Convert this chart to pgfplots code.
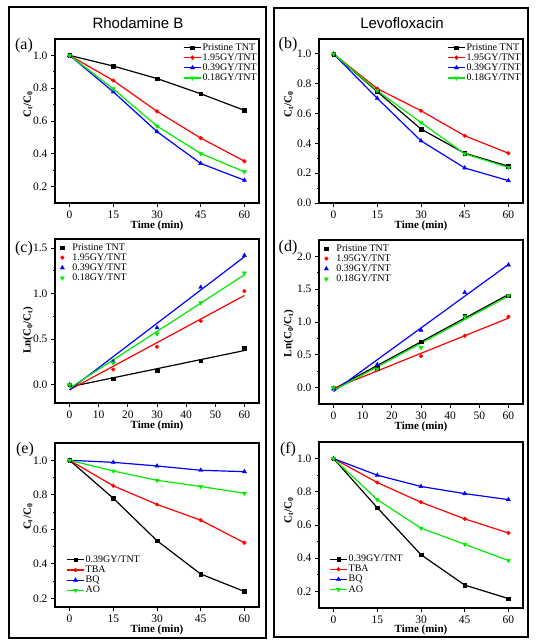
\documentclass[border=0pt]{standalone}
\usepackage{fontspec}
\setmainfont{Liberation Serif}
\newfontfamily\arialf{Liberation Sans}
\usepackage{pgfplots}
\pgfplotsset{compat=1.18}
\definecolor{cgreen}{RGB}{0,235,0}
\pgfplotsset{
 panel/.style={
  scale only axis, width=204pt, height=164pt,
  xmin=-5, xmax=65,
  tick pos=left, tick align=outside,
  major tick length=4pt, minor tick length=2pt,
  minor y tick num=1,
  axis line style={line width=1.1pt},
  every tick/.style={line width=0.9pt, black},
  tick label style={font=\fontsize{11.5}{13}\selectfont},
  /pgf/number format/assume math mode=true,
  xticklabel={\pgfmathprintnumber[assume math mode=true]{\tick}},
  yticklabel={\pgfmathprintnumber[assume math mode=true,fixed,fixed zerofill,precision=1]{\tick}},
  xlabel={\textbf{Time (min)}},
  label style={font=\fontsize{11}{13}\selectfont},
  xlabel style={at={(axis description cs:0.5,-0.138)}, anchor=center},
  legend style={draw=none, fill=none, font=\fontsize{10}{11}\selectfont, inner sep=0pt, row sep=0pt, nodes={inner sep=1pt}},
  legend cell align=left,
  every axis plot/.append style={line width=1.2pt},
 },
 mleg/.style={legend style={/tikz/every odd column/.append style={column sep=7pt}}},
 s1/.style={black, mark=square*, mark size=1.8pt, mark options={solid, line width=0.4pt}},
 s2/.style={red, mark=*, mark size=1.9pt, mark options={solid, line width=0.4pt}},
 s3/.style={blue, mark=triangle*, mark size=2.4pt, mark options={solid, line width=0.4pt}},
 s4/.style={cgreen, mark=triangle*, mark size=2.4pt, mark options={solid, rotate=180, line width=0.4pt}},
}
\begin{document}
\begin{tikzpicture}
\path[use as bounding box] (0pt,0pt) rectangle (542pt,-643pt);
\draw[line width=2pt] (9pt,-7pt) rectangle (266pt,-638pt);
\draw[line width=2pt] (274pt,-8pt) rectangle (528pt,-637pt);
\node[font=\arialf\fontsize{15}{17}\selectfont] at (138pt,-23pt) {Rhodamine B};
\node[font=\arialf\fontsize{15}{17}\selectfont] at (402pt,-23pt) {Levofloxacin};
\node[font=\fontsize{16}{18}\selectfont] at (24pt,-46pt) {(a)};
\node[font=\fontsize{16}{18}\selectfont] at (288pt,-45pt) {(b)};
\node[font=\fontsize{16}{18}\selectfont] at (24pt,-249pt) {(c)};
\node[font=\fontsize{16}{18}\selectfont] at (288pt,-248pt) {(d)};
\node[font=\fontsize{16}{18}\selectfont] at (25pt,-450pt) {(e)};
\node[font=\fontsize{16}{18}\selectfont] at (288pt,-450pt) {(f)};

% (a)
\begin{axis}[panel, at={(55pt,-39pt)}, anchor=north west,
  ymin=0.1, ymax=1.1, ytick={0.2,0.4,0.6,0.8,1.0}, xtick={0,15,30,45,60},
  ylabel={\textbf{C\textsubscript{t}/C\textsubscript{0}}},
  ylabel style={at={(axis description cs:-0.132,0.6)}, anchor=center},
  legend style={at={(axis description cs:0.995,0.98)}, anchor=north east}]
\addplot[s1] coordinates {(0,1.0)(15,0.935)(30,0.859)(45,0.766)(60,0.665)};
\addplot[s2] coordinates {(0,1.0)(15,0.847)(30,0.659)(45,0.496)(60,0.355)};
\addplot[s3] coordinates {(0,1.0)(15,0.778)(30,0.535)(45,0.341)(60,0.239)};
\addplot[s4] coordinates {(0,1.0)(15,0.796)(30,0.569)(45,0.402)(60,0.290)};
\legend{Pristine TNT,1.95GY/TNT,0.39GY/TNT,0.18GY/TNT}
\end{axis}

% (b)
\begin{axis}[panel, at={(319pt,-39pt)}, anchor=north west,
  ymin=0, ymax=1.1, ytick={0,0.2,0.4,0.6,0.8,1.0}, xtick={0,15,30,45,60},
  ylabel={\textbf{C\textsubscript{t}/C\textsubscript{0}}},
  ylabel style={at={(axis description cs:-0.148,0.6)}, anchor=center},
  legend style={at={(axis description cs:0.995,0.98)}, anchor=north east}]
\addplot[s1] coordinates {(0,1.0)(15,0.747)(30,0.496)(45,0.334)(60,0.247)};
\addplot[s2] coordinates {(0,1.0)(15,0.767)(30,0.619)(45,0.451)(60,0.334)};
\addplot[s3] coordinates {(0,1.0)(15,0.702)(30,0.417)(45,0.235)(60,0.150)};
\addplot[s4] coordinates {(0,1.0)(15,0.753)(30,0.540)(45,0.330)(60,0.238)};
\legend{Pristine TNT,1.95GY/TNT,0.39GY/TNT,0.18GY/TNT}
\end{axis}

% (c)
\begin{axis}[panel, mleg, at={(55pt,-239pt)}, anchor=north west,
  ymin=-0.2, ymax=1.6, ytick={0,0.5,1.0,1.5}, xtick={0,10,20,30,40,50,60},
  ylabel={\textbf{Ln(C\textsubscript{0}/C\textsubscript{t})}},
  ylabel style={at={(axis description cs:-0.132,0.445)}, anchor=center},
  legend style={at={(axis description cs:0.025,0.98)}, anchor=north west}]
\addplot[s1, only marks] coordinates {(0,0)(15,0.066)(30,0.154)(45,0.263)(60,0.400)};
\addplot[s2, only marks] coordinates {(0,0)(15,0.168)(30,0.417)(45,0.700)(60,1.028)};
\addplot[s3, only marks] coordinates {(0,0)(15,0.256)(30,0.626)(45,1.070)(60,1.420)};
\addplot[s4, only marks] coordinates {(0,0)(15,0.240)(30,0.560)(45,0.900)(60,1.226)};
\legend{Pristine TNT,1.95GY/TNT,0.39GY/TNT,0.18GY/TNT}
\addplot[black, no marks, forget plot] coordinates {(0,-0.023)(60,0.376)};
\addplot[red, no marks, forget plot] coordinates {(0,-0.055)(60,0.980)};
\addplot[blue, no marks, forget plot] coordinates {(0,-0.056)(60,1.405)};
\addplot[cgreen, no marks, forget plot] coordinates {(0,-0.037)(60,1.207)};
\end{axis}

% (d)
\begin{axis}[panel, mleg, at={(319pt,-240pt)}, anchor=north west,
  ymin=-0.25, ymax=2.25, ytick={0,0.5,1.0,1.5,2.0}, xtick={0,10,20,30,40,50,60},
  ylabel={\textbf{Ln(C\textsubscript{0}/C\textsubscript{t})}},
  ylabel style={at={(axis description cs:-0.148,0.43)}, anchor=center},
  legend style={at={(axis description cs:0.025,0.98)}, anchor=north west}]
\addplot[s1, only marks] coordinates {(0,0)(15,0.292)(30,0.700)(45,1.097)(60,1.400)};
\addplot[s2, only marks] coordinates {(0,0)(15,0.265)(30,0.478)(45,0.789)(60,1.079)};
\addplot[s3, only marks] coordinates {(0,-0.02)(15,0.350)(30,0.875)(45,1.450)(60,1.870)};
\addplot[s4, only marks] coordinates {(0,0)(15,0.284)(30,0.610)(45,1.084)(60,1.400)};
\legend{Pristine TNT,1.95GY/TNT,0.39GY/TNT,0.18GY/TNT}
\addplot[black, no marks, forget plot] coordinates {(0,-0.023)(60,1.419)};
\addplot[red, no marks, forget plot] coordinates {(0,-0.014)(60,1.059)};
\addplot[blue, no marks, forget plot] coordinates {(0,-0.059)(60,1.877)};
\addplot[cgreen, no marks, forget plot] coordinates {(0,-0.044)(60,1.396)};
\end{axis}

% (e)
\begin{axis}[panel, at={(55pt,-443pt)}, anchor=north west,
  ymin=0.15, ymax=1.1, ytick={0.2,0.4,0.6,0.8,1.0}, xtick={0,15,30,45,60},
  ylabel={\textbf{C\textsubscript{t}/C\textsubscript{0}}},
  ylabel style={at={(axis description cs:-0.132,0.55)}, anchor=center},
  xlabel style={at={(axis description cs:0.5,-0.137)}},
  legend style={at={(axis description cs:0.055,0.07)}, anchor=south west}]
\addplot[s1] coordinates {(0,1.0)(15,0.780)(30,0.534)(45,0.341)(60,0.240)};
\addplot[s2] coordinates {(0,1.0)(15,0.852)(30,0.744)(45,0.653)(60,0.522)};
\addplot[s3] coordinates {(0,1.0)(15,0.988)(30,0.967)(45,0.942)(60,0.934)};
\addplot[s4] coordinates {(0,1.0)(15,0.938)(30,0.884)(45,0.848)(60,0.809)};
\legend{0.39GY/TNT,TBA,BQ,AO}
\end{axis}

% (f)
\begin{axis}[panel, at={(319pt,-442pt)}, anchor=north west, height=166pt,
  ymin=0.1, ymax=1.1, ytick={0.2,0.4,0.6,0.8,1.0}, xtick={0,15,30,45,60},
  ylabel={\textbf{C\textsubscript{t}/C\textsubscript{0}}},
  ylabel style={at={(axis description cs:-0.148,0.59)}, anchor=center},
  xlabel style={at={(axis description cs:0.5,-0.133)}},
  legend style={at={(axis description cs:0.05,0.08)}, anchor=south west}]
\addplot[s1] coordinates {(0,1.0)(15,0.704)(30,0.421)(45,0.238)(60,0.157)};
\addplot[s2] coordinates {(0,1.0)(15,0.856)(30,0.737)(45,0.637)(60,0.552)};
\addplot[s3] coordinates {(0,1.0)(15,0.900)(30,0.832)(45,0.789)(60,0.753)};
\addplot[s4] coordinates {(0,1.0)(15,0.753)(30,0.581)(45,0.484)(60,0.386)};
\legend{0.39GY/TNT,TBA,BQ,AO}
\end{axis}
\end{tikzpicture}
\end{document}
